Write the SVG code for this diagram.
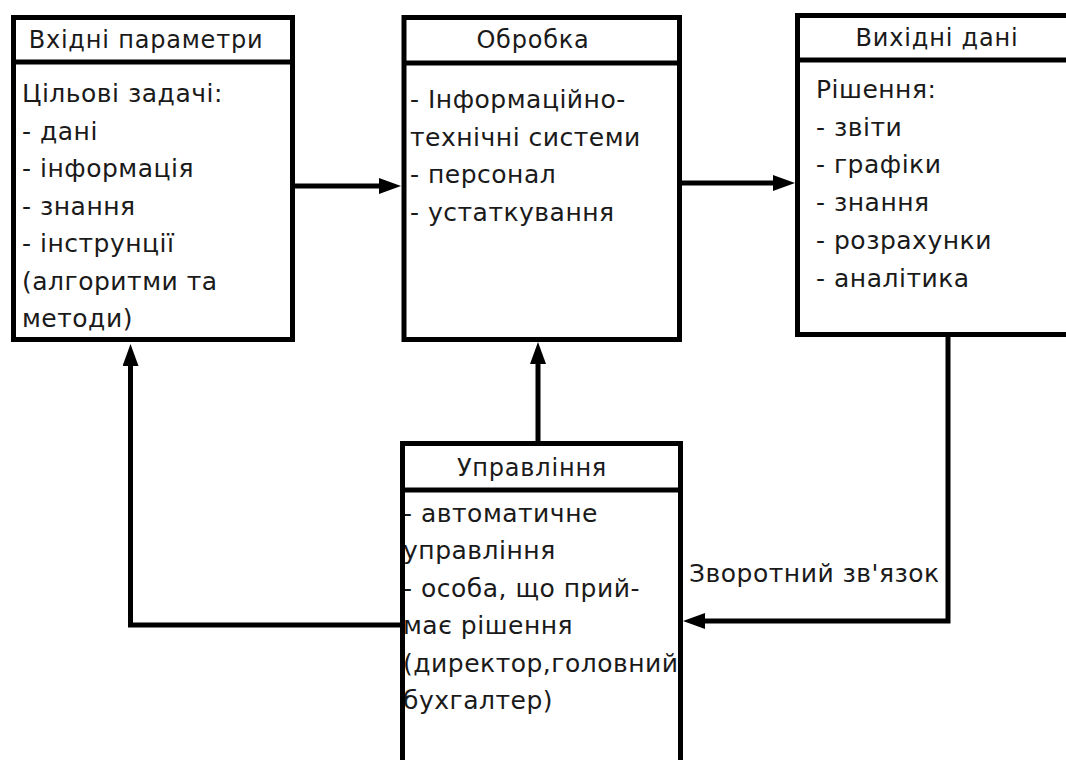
<svg xmlns="http://www.w3.org/2000/svg" width="1066" height="760" viewBox="0 0 1066 760">
<defs>
<marker id="ah" markerUnits="userSpaceOnUse" markerWidth="24" markerHeight="18" refX="9" refY="8" orient="auto">
<path d="M0,0 L22,8 L0,16 z" fill="#000"/>
</marker>
<style>
.box{fill:none;stroke:#000;stroke-width:5}
.div{stroke:#000;stroke-width:5}
.t{font-family:"DejaVu Sans",Verdana,sans-serif;font-size:25px;letter-spacing:0.5px;fill:#1a1a1a}
.h{text-anchor:middle;font-size:24px;letter-spacing:0.8px}
.c{fill:none;stroke:#000;stroke-width:5;marker-end:url(#ah)}
</style>
</defs>
<rect width="1066" height="760" fill="#fff"/>
<g id="node-input">
<text class="t h" x="146" y="48">Вхідні параметри</text>
<text class="t" x="22" y="102">Цільові задачі:</text>
<text class="t" x="22" y="139.5">- дані</text>
<text class="t" x="22" y="177">- інформація</text>
<text class="t" x="22" y="214.5">- знання</text>
<text class="t" x="22" y="252">- інструнції</text>
<text class="t" x="22" y="289.5">(алгоритми та</text>
<text class="t" x="22" y="327">методи)</text>
<rect class="box" x="13.5" y="17.5" width="279" height="322"/>
<line class="div" x1="13.5" y1="62" x2="292.5" y2="62"/>
</g>
<g id="node-processing">
<text class="t h" x="533" y="48">Обробка</text>
<text class="t" x="410" y="108">- Інформаційно-</text>
<text class="t" x="410" y="145.5">технічні системи</text>
<text class="t" x="410" y="183">- персонал</text>
<text class="t" x="410" y="220.5">- устаткування</text>
<rect class="box" x="404" y="17.5" width="275.5" height="322"/>
<line class="div" x1="404" y1="63" x2="679.5" y2="63"/>
</g>
<g id="node-output">
<text class="t h" x="937" y="46">Вихідні дані</text>
<text class="t" x="816" y="98">Рішення:</text>
<text class="t" x="816" y="135.5">- звіти</text>
<text class="t" x="816" y="173">- графіки</text>
<text class="t" x="816" y="211">- знання</text>
<text class="t" x="816" y="249">- розрахунки</text>
<text class="t" x="816" y="287">- аналітика</text>
<rect class="box" x="797.5" y="15.5" width="275" height="319"/>
<line class="div" x1="797.5" y1="60" x2="1072.5" y2="60"/>
</g>
<g id="node-control">
<text class="t h" x="532" y="476">Управління</text>
<text class="t" x="403" y="522">- автоматичне</text>
<text class="t" x="403" y="559">управління</text>
<text class="t" x="403" y="597">- особа, що прий-</text>
<text class="t" x="403" y="634">має рішення</text>
<text class="t" x="403" y="672">(директор,головний</text>
<text class="t" x="403" y="709">бухгалтер)</text>
<rect class="box" x="402.5" y="443.5" width="278" height="330"/>
<line class="div" x1="402.5" y1="490" x2="680.5" y2="490"/>
</g>
<g id="connectors">
<path class="c" d="M295,186 H388"/>
<path class="c" d="M682,183 H782"/>
<path class="c" d="M538,441 V355"/>
<path class="c" d="M400,625 H130.5 V357"/>
<path class="c" d="M948,337 V621 H696"/>
<text class="t" x="689" y="582">Зворотний зв'язок</text>
</g>
</svg>
